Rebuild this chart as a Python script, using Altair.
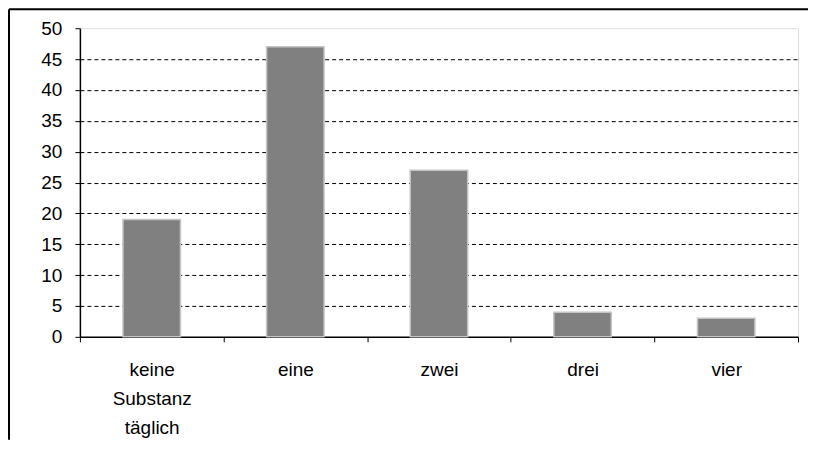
import altair as alt
import pandas as pd

categories = ["keine Substanz täglich", "eine", "zwei", "drei", "vier"]
values = [19, 47, 27, 4, 3]
y_ticks = [0, 5, 10, 15, 20, 25, 30, 35, 40, 45, 50]

df = pd.DataFrame({"cat": categories, "val": values})
frame_df = pd.DataFrame({"k": [0]})

FONT = "Liberation Sans"

bars = alt.Chart(df).mark_bar(
    color="#808080", stroke="#c4c4c4", strokeWidth=1.5,
    width=alt.RelativeBandSize(0.4)
).encode(
    x=alt.X("cat:N", sort=categories, title=None,
            scale=alt.Scale(paddingInner=0, paddingOuter=0),
            axis=alt.Axis(labelAngle=0, tickBand="extent", tickSize=5,
                          tickColor="black", domainColor="black", domainWidth=1.5,
                          labelExpr="split(datum.label, ' ')",
                          labelLineHeight=29, labelPadding=19,
                          labelFont=FONT, labelFontSize=19, labelColor="black")),
    y=alt.Y("val:Q", title=None,
            scale=alt.Scale(domain=[0, 50], nice=False),
            axis=alt.Axis(values=y_ticks, tickSize=5, tickColor="black",
                          domainColor="black", domainWidth=1.5,
                          grid=True, gridColor="black", gridDash=[4, 3],
                          gridOpacity={"condition": {"test": "datum.value == 50 || datum.value == 0", "value": 0}, "value": 1},
                          labelPadding=13, labelFont=FONT, labelFontSize=19,
                          labelColor="black")),
)

frame_v = alt.Chart(frame_df).mark_rule(color="black", strokeWidth=2).encode(
    x=alt.value(-71), y=alt.value(-19), y2=alt.value(412)
)
frame_h = alt.Chart(frame_df).mark_rule(color="black", strokeWidth=2).encode(
    x=alt.value(-71), x2=alt.value(729), y=alt.value(-19)
)

chart = alt.layer(bars, frame_v, frame_h).properties(
    width=719, height=309,
    padding={"left": 0, "top": 0, "right": 0, "bottom": 0},
).configure_view(stroke="#a0a0a0", strokeWidth=1.5).configure(background="white")

chart.save("out.html", embed_options={"renderer": "svg", "actions": False})
